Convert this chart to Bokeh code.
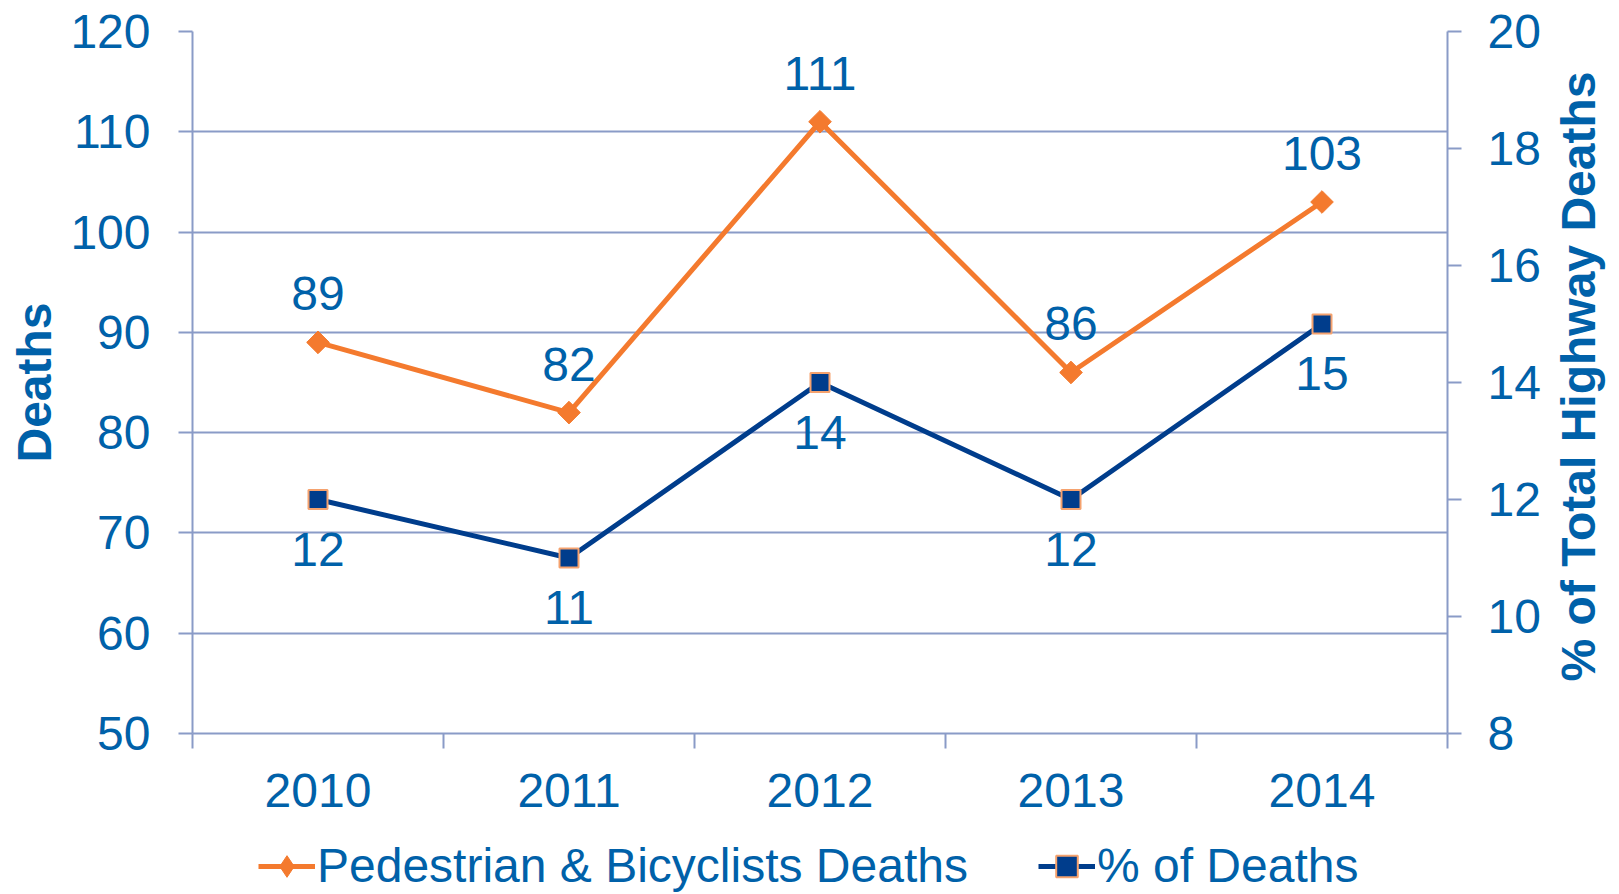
from bokeh.plotting import figure
from bokeh.models import (Range1d, LinearAxis, FixedTicker, ColumnDataSource,
                          LabelSet, Label, Legend, LegendItem)
from bokeh.layouts import row, column
from bokeh.core.properties import value
from bokeh.embed import file_html
from bokeh.resources import INLINE
import math

# ---- data ----
years = ["2010", "2011", "2012", "2013", "2014"]
ped_bike_deaths = [89, 82, 111, 86, 103]
pct_of_deaths = [12, 11, 14, 12, 15]
left_ticks = [50, 60, 70, 80, 90, 100, 110, 120]
right_ticks = [8, 10, 12, 14, 16, 18, 20]
series_names = ["Pedestrian & Bicyclists Deaths", "% of Deaths"]
left_title = "Deaths"
right_title = "% of Total Highway Deaths"

# ---- styles ----
FONT = "Liberation Sans"
TXT = "#0061A9"
GRID = "#8A9BC7"
ORANGE = "#F47A2E"
NAVY = "#003D8C"
SQ_EDGE = "#F5A26E"
FS = "48px"
LW = 5

xs = [i + 0.5 for i in range(len(years))]
src = ColumnDataSource(dict(
    x=xs, deaths=ped_bike_deaths, pct=pct_of_deaths,
    dlab=[str(v) for v in ped_bike_deaths],
    plab=[str(v) for v in pct_of_deaths],
))

# ================= main chart =================
p = figure(width=1547, height=816, output_backend="svg", toolbar_location=None,
           x_range=Range1d(0, len(years)), y_range=Range1d(left_ticks[0], left_ticks[-1]),
           min_border_left=192, min_border_right=100, min_border_top=31, min_border_bottom=83)
p.outline_line_color = None
p.background_fill_color = "white"
p.border_fill_color = "white"
p.extra_y_ranges = {"pct": Range1d(right_ticks[0], right_ticks[-1])}

p.xgrid.visible = False
p.ygrid.grid_line_color = GRID
p.ygrid.grid_line_width = 2
p.ygrid.ticker = FixedTicker(ticks=left_ticks)

xa = p.xaxis[0]
xa.ticker = FixedTicker(ticks=xs, minor_ticks=list(range(len(years) + 1)))
xa.major_label_overrides = {x: y for x, y in zip(xs, years)}
xa.major_tick_out = 0
xa.major_tick_in = 0
xa.minor_tick_out = 15
xa.minor_tick_in = 0
xa.minor_tick_line_color = GRID
xa.minor_tick_line_width = 2
xa.axis_line_color = GRID
xa.axis_line_width = 2
xa.major_label_standoff = 25
xa.major_label_text_font = FONT
xa.major_label_text_font_size = FS
xa.major_label_text_color = TXT

ya = p.yaxis[0]
ya.ticker = FixedTicker(ticks=left_ticks)
ya.major_tick_out = 14
ya.major_tick_in = 0
ya.minor_tick_out = 0
ya.minor_tick_in = 0
ya.major_tick_line_color = GRID
ya.major_tick_line_width = 2
ya.axis_line_color = GRID
ya.axis_line_width = 2
ya.major_label_standoff = 28
ya.major_label_text_font = FONT
ya.major_label_text_font_size = FS
ya.major_label_text_color = TXT
ya.axis_label = left_title
ya.axis_label_text_font = FONT
ya.axis_label_text_font_size = FS
ya.axis_label_text_font_style = "bold"
ya.axis_label_text_color = TXT
ya.axis_label_standoff = 6

ra = LinearAxis(y_range_name="pct", ticker=FixedTicker(ticks=right_ticks))
ra.major_tick_out = 14
ra.major_tick_in = 0
ra.minor_tick_out = 0
ra.minor_tick_in = 0
ra.major_tick_line_color = GRID
ra.major_tick_line_width = 2
ra.axis_line_color = GRID
ra.axis_line_width = 2
ra.major_label_standoff = 26
ra.major_label_text_font = FONT
ra.major_label_text_font_size = FS
ra.major_label_text_color = TXT
p.add_layout(ra, "right")

l1 = p.line("x", "deaths", source=src, line_color=ORANGE, line_width=LW)
m1 = p.scatter("x", "deaths", source=src, marker="square", size=16, angle=math.pi / 4,
               fill_color=ORANGE, line_color=ORANGE, line_width=1)
l2 = p.line("x", "pct", source=src, y_range_name="pct", line_color=NAVY, line_width=LW)
m2 = p.scatter("x", "pct", source=src, y_range_name="pct", marker="square", size=19,
               fill_color=NAVY, line_color=SQ_EDGE, line_width=2)

p.add_layout(LabelSet(x="x", y="deaths", text="dlab", source=src, y_offset=32,
                      text_align="center", text_baseline="alphabetic",
                      text_font=value(FONT), text_font_size=value(FS), text_color=TXT))
p.add_layout(LabelSet(x="x", y="pct", text="plab", source=src, y_range_name="pct",
                      y_offset=-66, text_align="center", text_baseline="alphabetic",
                      text_font=value(FONT), text_font_size=value(FS), text_color=TXT))

# ================= right title strip =================
pr = figure(width=72, height=816, output_backend="svg", toolbar_location=None,
            x_range=Range1d(0, 72), y_range=Range1d(0, 816),
            x_axis_type=None, y_axis_type=None, min_border=0)
pr.outline_line_color = None
pr.grid.visible = False
pr.add_layout(Label(x=31, y=415, text=right_title, angle=math.pi / 2,
                    text_align="center", text_baseline="alphabetic",
                    text_font=FONT, text_font_size=FS, text_font_style="bold",
                    text_color=TXT))

# ================= legend strip =================
pl = figure(width=1619, height=78, output_backend="svg", toolbar_location=None,
            x_range=Range1d(100, 101), y_range=Range1d(left_ticks[0], left_ticks[-1]),
            x_axis_type=None, y_axis_type=None, min_border=0)
pl.outline_line_color = None
pl.grid.visible = False
pl.extra_y_ranges = {"pct": Range1d(right_ticks[0], right_ticks[-1])}
g1 = pl.line("x", "deaths", source=src, line_color=ORANGE, line_width=LW)
h1 = pl.scatter("x", "deaths", source=src, marker="diamond", size=22,
                fill_color=ORANGE, line_color=ORANGE, line_width=1)
g2 = pl.line("x", "pct", source=src, y_range_name="pct", line_color=NAVY, line_width=LW)
h2 = pl.scatter("x", "pct", source=src, y_range_name="pct", marker="square", size=19,
                fill_color=NAVY, line_color=SQ_EDGE, line_width=2)

legend = Legend(items=[
    LegendItem(label=series_names[0], renderers=[g1, h1]),
    LegendItem(label=series_names[1], renderers=[g2, h2]),
], location=(258, 1), orientation="horizontal")
legend.padding = 0
legend.margin = 0
legend.spacing = 70
legend.label_standoff = 2
legend.glyph_width = 57
legend.glyph_height = 54
legend.label_height = 54
legend.label_text_font = FONT
legend.label_text_font_size = FS
legend.label_text_color = TXT
legend.border_line_color = None
legend.background_fill_alpha = 0
pl.add_layout(legend, "center")

layout = column(row(p, pr, spacing=0), pl, spacing=0)
open("out.html", "w").write(file_html(layout, INLINE))
